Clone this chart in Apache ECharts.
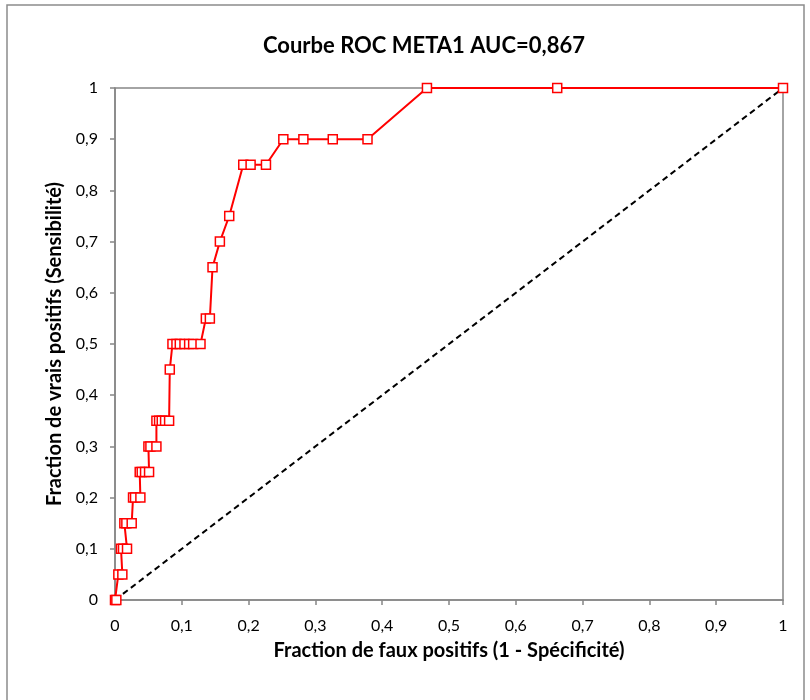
<!DOCTYPE html>
<html>
<head>
<meta charset="utf-8">
<script src="https://cdn.jsdelivr.net/npm/echarts@6/dist/echarts.min.js"></script>
<style>
html,body{margin:0;padding:0;background:#fff;}
#c{width:810px;height:700px;}
</style>
</head>
<body>
<div id="c"></div>
<script>
var titleText = 'Courbe ROC META1 AUC=0,867';
var xAxisName = 'Fraction de faux positifs (1 - Spécificité)';
var yAxisName = 'Fraction de vrais positifs (Sensibilité)';

var fpr = [0, 0.002,
  0.005, 0.011,
  0.009, 0.012, 0.018,
  0.014, 0.017, 0.025,
  0.027, 0.030, 0.038,
  0.037, 0.040, 0.045, 0.051,
  0.050, 0.053, 0.062,
  0.062, 0.066, 0.070, 0.075, 0.081,
  0.082,
  0.086, 0.092, 0.097, 0.104, 0.111, 0.117, 0.128,
  0.136, 0.142,
  0.146, 0.157, 0.171,
  0.192, 0.203, 0.226,
  0.252, 0.282, 0.326, 0.378,
  0.467, 0.662, 1];
var tpr = [0, 0,
  0.05, 0.05,
  0.1, 0.1, 0.1,
  0.15, 0.15, 0.15,
  0.2, 0.2, 0.2,
  0.25, 0.25, 0.25, 0.25,
  0.3, 0.3, 0.3,
  0.35, 0.35, 0.35, 0.35, 0.35,
  0.45,
  0.5, 0.5, 0.5, 0.5, 0.5, 0.5, 0.5,
  0.55, 0.55,
  0.65, 0.7, 0.75,
  0.85, 0.85, 0.85,
  0.9, 0.9, 0.9, 0.9,
  1, 1, 1];
var diagX = [0, 1];
var diagY = [0, 1];

var rocData = fpr.map(function(x, i){ return [x, tpr[i]]; });
var diagData = diagX.map(function(x, i){ return [x, diagY[i]]; });

function fmt(v){
  var s = (Math.round(v * 10) / 10).toString();
  return s.replace('.', ',');
}

var axisColor = '#868686';
var font = 'Lato, "Open Sans", sans-serif';

var chart = echarts.init(document.getElementById('c'));
chart.setOption({
  animation: false,
  backgroundColor: '#fff',
  graphic: [{
    type: 'rect',
    shape: {x: 7, y: 5, width: 797, height: 710},
    style: {fill: 'none', stroke: '#8c8c8c', lineWidth: 1.5},
    silent: true
  }],
  title: {
    text: titleText,
    left: 258,
    top: 30,
    textStyle: {fontFamily: font, fontSize: 22, fontWeight: 'bold', color: '#000'}
  },
  grid: {
    left: 115, right: 27, top: 88, bottom: 100,
    show: true, borderColor: axisColor, borderWidth: 1.5, backgroundColor: 'transparent'
  },
  xAxis: {
    type: 'value', min: 0, max: 1, interval: 0.1,
    name: xAxisName, nameLocation: 'middle', nameGap: 41,
    nameTextStyle: {fontFamily: font, fontSize: 20, fontWeight: 'bold', color: '#000'},
    axisLine: {show: true, lineStyle: {color: axisColor, width: 1.5}},
    axisTick: {show: true, length: 5, lineStyle: {color: axisColor, width: 1.5}},
    axisLabel: {formatter: fmt, fontFamily: font, fontSize: 16, color: '#000', margin: 18},
    splitLine: {show: false}
  },
  yAxis: {
    type: 'value', min: 0, max: 1, interval: 0.1,
    name: yAxisName, nameLocation: 'middle', nameGap: 48, nameRotate: 90,
    nameTextStyle: {fontFamily: font, fontSize: 20, fontWeight: 'bold', color: '#000'},
    axisLine: {show: true, lineStyle: {color: axisColor, width: 1.5}},
    axisTick: {show: true, length: 5, lineStyle: {color: axisColor, width: 1.5}},
    axisLabel: {formatter: fmt, fontFamily: font, fontSize: 16, color: '#000', margin: 17},
    splitLine: {show: false}
  },
  series: [{
    type: 'line',
    data: diagData,
    showSymbol: false,
    symbol: 'none',
    lineStyle: {color: '#000', width: 2, type: [6, 4]},
    z: 2
  }, {
    type: 'line',
    data: rocData,
    symbol: 'rect',
    symbolSize: 9,
    lineStyle: {color: '#ff0000', width: 2},
    itemStyle: {color: '#ffffff', borderColor: '#ff0000', borderWidth: 1.5},
    z: 3
  }]
});
</script>
</body>
</html>
